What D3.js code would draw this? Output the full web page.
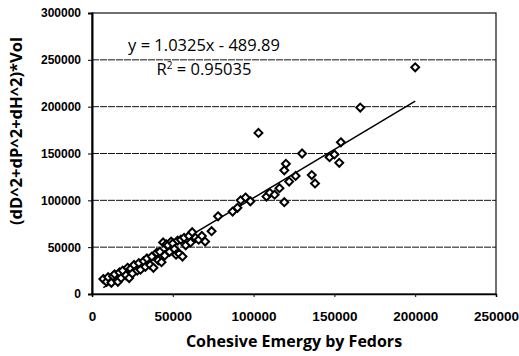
<!DOCTYPE html>
<html>
<head>
<meta charset="utf-8">
<script src="https://cdn.jsdelivr.net/npm/d3@7"></script>
<style>
  body { margin: 0; background: #fff; }
  svg { display: block; font-family: "Open Sans", "Liberation Sans", sans-serif; }
</style>
</head>
<body>
<svg id="chart" width="519" height="356"></svg>
<script>
// values
const xVals = [7000, 9000, 10000, 12000, 13000, 14000, 16000, 17000, 18000, 19000,
  21000, 22000, 23000, 24000, 25000, 26000, 28000, 29000, 30000, 32000,
  33000, 34000, 36000, 37000, 38000, 40000, 41000, 42000, 43000, 44000,
  45000, 46000, 47000, 48000, 49000, 50000, 51000, 52000, 53000, 54000,
  55000, 56000, 57000, 58000, 60000, 61000, 62000, 64000, 66000, 68000,
  70000, 74000, 78000, 87000, 90000, 92000, 95000, 98000, 103000, 108000,
  110000, 113000, 116000, 119000, 119000, 120000, 122000, 126000, 130000, 136000,
  138000, 147000, 150000, 153000, 154000, 166000, 200000];
const yVals = [16000, 13000, 18000, 12000, 19000, 21000, 13000, 23000, 17000, 25000,
  20000, 28000, 17000, 27000, 22000, 31000, 25000, 33000, 26000, 35000,
  29000, 38000, 31000, 40000, 28000, 44000, 36000, 45000, 34000, 55000,
  41000, 53000, 52000, 45000, 56000, 54000, 48000, 42000, 57000, 43000,
  58000, 40000, 60000, 52000, 62000, 55000, 66000, 60000, 58000, 62000,
  56000, 67000, 83000, 88000, 92000, 100000, 103000, 99000, 172000, 104000,
  108000, 106000, 113000, 98000, 132000, 139000, 120000, 126000, 150000, 127000,
  118000, 146000, 149000, 140000, 162000, 199000, 242000];
const xTicks = [0, 50000, 100000, 150000, 200000, 250000];
const yTicks = [0, 50000, 100000, 150000, 200000, 250000, 300000];
const slope = 1.0325, intercept = -489.89;

const points = xVals.map((x, i) => ({x: x, y: yVals[i]}));

const svg = d3.select('svg#chart');
const margin = {top: 13, right: 23, bottom: 62, left: 92};
const width = 519, height = 356;
const innerWidth = width - margin.left - margin.right;
const innerHeight = height - margin.top - margin.bottom;

const x = d3.scaleLinear().domain([0, 250000]).range([0, innerWidth]);
const y = d3.scaleLinear().domain([0, 300000]).range([innerHeight, 0]);

const graph = svg.append('g')
  .attr('transform', `translate(${margin.left}, ${margin.top})`);

// gridlines
graph.append('g')
  .selectAll('line')
  .data(yTicks.slice(1, -1))
  .enter()
  .append('line')
    .attr('x1', 0).attr('x2', innerWidth)
    .attr('y1', d => y(d)).attr('y2', d => y(d))
    .style('stroke', '#111')
    .style('stroke-width', 1)
    .style('stroke-dasharray', '7,1');

// frame
graph.append('rect')
  .attr('width', innerWidth).attr('height', innerHeight)
  .style('fill', 'none').style('stroke', '#111').style('stroke-width', 1.2);

// y axis
const gYAxis = graph.append('g')
  .call(d3.axisLeft(y).tickValues(yTicks).tickSize(4).tickPadding(7).tickFormat(d3.format('d')));
gYAxis.select('.domain').style('stroke', '#000').style('stroke-width', 2);
gYAxis.selectAll('text').style('font-size', '12px').style('font-weight', 'bold');

// x axis
const gXAxis = graph.append('g')
  .attr('transform', `translate(0, ${innerHeight})`)
  .call(d3.axisBottom(x).tickValues(xTicks).tickSize(3).tickPadding(14).tickFormat(d3.format('d')));
gXAxis.select('.domain').style('stroke', '#000').style('stroke-width', 1.5);
gXAxis.selectAll('text').style('font-size', '13.5px').style('font-weight', 'bold');

// trend line
const xMin = d3.min(xVals), xMax = d3.max(xVals);
graph.append('line')
  .attr('x1', x(xMin)).attr('y1', y(slope * xMin + intercept))
  .attr('x2', x(xMax)).attr('y2', y(slope * xMax + intercept))
  .style('stroke', '#000').style('stroke-width', 1.5);

// diamond markers
const diamond = d3.symbol().type(d3.symbolDiamond2).size(40);
graph.selectAll('path.pt')
  .data(points)
  .enter()
  .append('path')
    .attr('class', 'pt')
    .attr('d', diamond)
    .attr('transform', d => `translate(${x(d.x)}, ${y(d.y)})`)
    .style('fill', '#fff')
    .style('stroke', '#000')
    .style('stroke-width', 2);

// equation
svg.append('text')
  .attr('x', 204).attr('y', 51)
  .attr('text-anchor', 'middle')
  .style('font-size', '16.5px')
  .text('y = 1.0325x - 489.89');
const r2 = svg.append('text')
  .attr('x', 204).attr('y', 75)
  .attr('text-anchor', 'middle')
  .style('font-size', '16.5px');
r2.append('tspan').text('R');
r2.append('tspan').attr('dy', -6).style('font-size', '10px').text('2');
r2.append('tspan').attr('dy', 6).text(' = 0.95035');

// axis titles
svg.append('text')
  .attr('x', 294).attr('y', 347)
  .attr('text-anchor', 'middle')
  .style('font-size', '16px').style('font-weight', 'bold')
  .text('Cohesive Emergy by Fedors');
svg.append('text')
  .attr('transform', 'translate(22, 131) rotate(-90)')
  .attr('text-anchor', 'middle')
  .style('font-size', '16.5px').style('font-weight', 'bold')
  .text('(dD^2+dP^2+dH^2)*Vol');
</script>
</body>
</html>
